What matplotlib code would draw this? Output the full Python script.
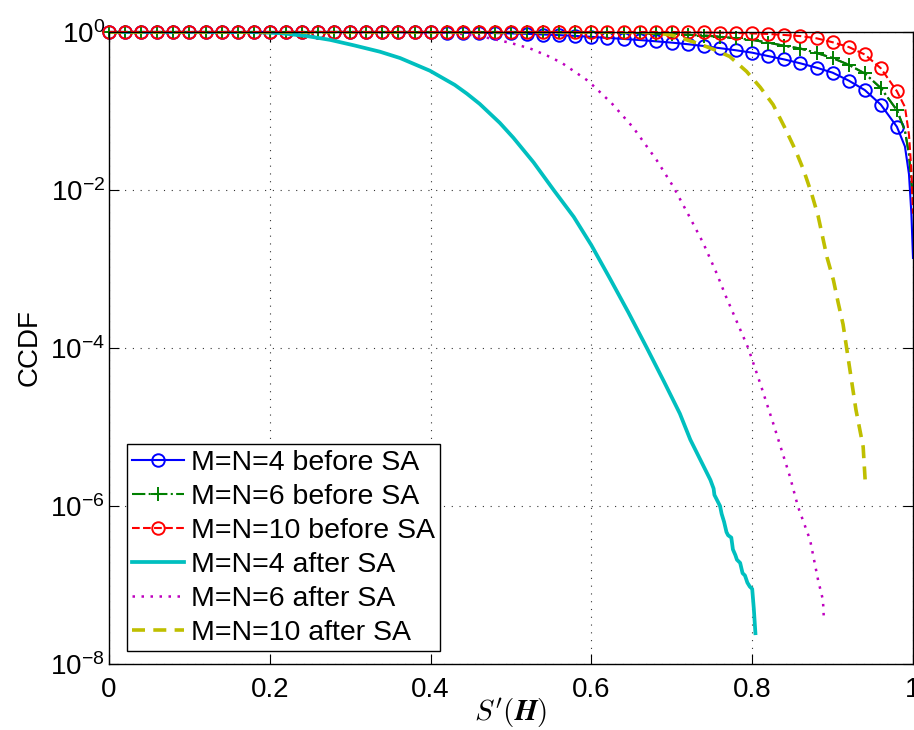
import numpy as np
import matplotlib
matplotlib.use("Agg")
import matplotlib.pyplot as plt

plt.rcParams['font.family'] = ['Liberation Sans', 'DejaVu Sans']
plt.rcParams['mathtext.fontset'] = 'custom'
plt.rcParams['mathtext.rm'] = 'Liberation Sans'
plt.rcParams['mathtext.it'] = 'Liberation Sans:italic'
plt.rcParams['mathtext.bf'] = 'Liberation Sans:bold'

# marker positions of the "before SA" curves, plus the tail points up to 1
marker_x = [round(0.02 * i, 2) for i in range(50)]
tail_x = [0.99, 0.995, 0.998, 1.0]
x_before = marker_x + tail_x

# log10(CCDF) before SA
log_before_4 = [0.0] * 16 + [
    -0.001, -0.002, -0.003, -0.004, -0.005, -0.007, -0.009, -0.011, -0.014,
    -0.018, -0.024, -0.032, -0.040, -0.050, -0.062, -0.075, -0.088, -0.102,
    -0.118, -0.135, -0.155, -0.178, -0.205, -0.232, -0.262, -0.305, -0.348,
    -0.397, -0.452, -0.515, -0.615, -0.735, -0.920, -1.200,
    -1.45, -1.80, -2.30, -2.86]
log_before_6 = [0.0] * 28 + [
    -0.002, -0.004, -0.006, -0.009, -0.012, -0.016, -0.021, -0.027, -0.035,
    -0.045, -0.060, -0.080, -0.100, -0.135, -0.175, -0.210, -0.265, -0.330,
    -0.415, -0.525, -0.710, -0.990,
    -1.25, -1.55, -1.90, -2.10]
log_before_10 = [0.0] * 36 + [
    -0.004, -0.006, -0.009, -0.013, -0.018, -0.025, -0.038, -0.052, -0.080,
    -0.130, -0.190, -0.285, -0.460, -0.750,
    -0.95, -1.30, -1.75, -2.30]

# after SA
x_after_4 = [0.0, 0.1, 0.18, 0.213, 0.245, 0.275, 0.305, 0.337, 0.362, 0.399,
             0.43, 0.445, 0.461, 0.486, 0.503, 0.528, 0.553, 0.578, 0.6,
             0.623, 0.646, 0.669, 0.69, 0.71, 0.723, 0.748, 0.752, 0.753,
             0.76, 0.762, 0.765, 0.768, 0.77, 0.774, 0.776, 0.779, 0.781,
             0.785, 0.788, 0.791, 0.794, 0.797, 0.8, 0.802, 0.804]
log_after_4 = [0.0, 0.0, -0.002, -0.015, -0.05, -0.10, -0.17, -0.25, -0.33,
               -0.49, -0.67, -0.78, -0.91, -1.15, -1.34, -1.65, -2.0, -2.34,
               -2.70, -3.12, -3.55, -4.0, -4.42, -4.83, -5.16, -5.67, -5.78,
               -5.86, -6.0, -6.1, -6.2, -6.33, -6.37, -6.40, -6.55, -6.62,
               -6.68, -6.72, -6.85, -6.88, -6.97, -7.02, -7.05, -7.3, -7.61]

x_after_6 = [0.0, 0.3, 0.4, 0.43, 0.45, 0.474, 0.5, 0.524, 0.545, 0.563,
             0.596, 0.625, 0.652, 0.681, 0.702, 0.721, 0.739, 0.756, 0.767,
             0.795, 0.81, 0.826, 0.847, 0.857, 0.872, 0.882, 0.888, 0.889]
log_after_6 = [0.0, 0.0, -0.005, -0.015, -0.04, -0.08, -0.14, -0.21, -0.30,
               -0.39, -0.62, -0.90, -1.21, -1.62, -1.96, -2.32, -2.67, -3.06,
               -3.34, -4.0, -4.45, -4.95, -5.63, -6.01, -6.43, -6.94, -7.19,
               -7.4]

x_after_10 = [0.0, 0.6, 0.673, 0.7, 0.731, 0.752, 0.772, 0.793, 0.81, 0.826,
              0.84, 0.854, 0.864, 0.874, 0.882, 0.893, 0.901, 0.907, 0.913,
              0.921, 0.929, 0.938, 0.941]
log_after_10 = [0.0, 0.0, 0.0, -0.04, -0.14, -0.22, -0.31, -0.50, -0.70,
                -0.92, -1.20, -1.50, -1.75, -2.05, -2.33, -2.85, -3.14, -3.43,
                -3.70, -4.24, -4.78, -5.25, -5.76]

labels = ['M=N=4 before SA', 'M=N=6 before SA', 'M=N=10 before SA',
          'M=N=4 after SA', 'M=N=6 after SA', 'M=N=10 after SA']

fig = plt.figure(figsize=(9.14, 7.3), dpi=100)
ax = fig.add_axes([0.1193, 0.0904, 0.8796, 0.8658])

mk = list(range(50))
ax.plot(x_before, 10 ** np.array(log_before_4), '-o', color='b', lw=1.5,
        ms=9, mfc='none', mew=1.4, markevery=mk, clip_on=False, label=labels[0])
ax.plot(x_before, 10 ** np.array(log_before_6), '-.+', color='#008000', lw=1.5,
        ms=10, mew=1.4, markevery=mk, clip_on=False, label=labels[1])
ax.plot(x_before, 10 ** np.array(log_before_6), '-.', color='#404040', lw=1.5,
        clip_on=False, label='_nolegend_', zorder=1.9)
ax.plot(x_before, 10 ** np.array(log_before_10), '--o', color='r', lw=1.5,
        ms=9, mfc='none', mew=1.4, markevery=mk, clip_on=False, label=labels[2])
ax.plot(x_after_4, 10 ** np.array(log_after_4), '-', color='#00bfbf', lw=2.7,
        label=labels[3])
ax.plot(x_after_6, 10 ** np.array(log_after_6), color='#bf00bf', lw=1.8,
        dashes=(1.0, 2.6), label=labels[4])
ax.plot(x_after_10, 10 ** np.array(log_after_10), color='#bfbf00', lw=2.6,
        dashes=(3.6, 2.3), label=labels[5])

ax.set_yscale('log')
ax.set_xlim(0, 1)
ax.set_ylim(1e-8, 1)
ax.set_xticks([0, 0.2, 0.4, 0.6, 0.8, 1])
ax.set_xticklabels(['0', '0.2', '0.4', '0.6', '0.8', '1'])
ax.set_yticks([1e-8, 1e-6, 1e-4, 1e-2, 1])
ax.set_yticklabels([r'$10^{-8}$', r'$10^{-6}$', r'$10^{-4}$', r'$10^{-2}$', r'$10^{0}$'])
ax.minorticks_off()
ax.tick_params(direction='in', length=7, width=0.8, labelsize=20,
               top=True, right=True)
ax.tick_params(axis='x', pad=9)
ax.tick_params(axis='y', pad=3)
ax.grid(True, color='k', linestyle=(0, (1, 6)), linewidth=0.8, alpha=0.8)
for s in ax.spines.values():
    s.set_linewidth(1.0)

ax.set_ylabel('CCDF', fontsize=20)
ax.yaxis.set_label_coords(-0.082, 0.5)
ax.set_xlabel(r"$S^{\prime}(\boldsymbol{H})$", fontsize=21, math_fontfamily='cm',
              labelpad=-5)

ax.legend(loc='lower left', bbox_to_anchor=(0.022, 0.02), borderaxespad=0,
          fontsize=20.5, handlelength=1.8, handletextpad=0.25, labelspacing=0.28,
          borderpad=0.2, fancybox=False, framealpha=1, edgecolor='k')

fig.savefig('out.png', dpi=100)
